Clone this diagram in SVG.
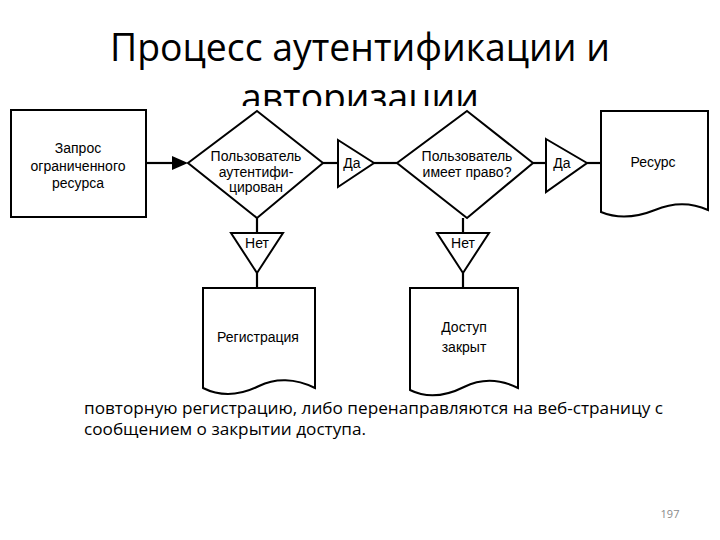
<svg xmlns="http://www.w3.org/2000/svg" width="720" height="540" viewBox="0 0 720 540">
<defs>
<style>
.shape{fill:#fff;stroke:#000;stroke-width:2;stroke-linejoin:miter}
.conn{fill:none;stroke:#000;stroke-width:2.2}
.lbl{font-family:"Liberation Sans",Arial,sans-serif;font-size:14px;fill:#000;text-anchor:middle}
.title{font-family:"Open Sans","Liberation Sans",sans-serif;font-size:38px;fill:#000;text-anchor:middle}
.body{font-family:"Open Sans","Liberation Sans",sans-serif;font-size:16px;fill:#000}
</style>
</defs>
<rect width="720" height="540" fill="#fff"/>
<g id="title">
<text class="title" x="360" y="61" textLength="500" lengthAdjust="spacingAndGlyphs">Процесс аутентификации и</text>
<text class="title" x="360" y="111" textLength="238" lengthAdjust="spacingAndGlyphs">авторизации</text>
</g>
<rect x="0" y="106" width="720" height="286" fill="#fff"/>
<g id="connectors">
<line class="conn" x1="146" y1="163" x2="172" y2="163"/>
<path d="M172,156 L188,163 L172,170 Z" fill="#000"/>
<line class="conn" x1="323" y1="163" x2="338" y2="163"/>
<line class="conn" x1="374" y1="163" x2="397" y2="163"/>
<line class="conn" x1="533" y1="163" x2="546" y2="163"/>
<line class="conn" x1="587" y1="163" x2="601" y2="163"/>
<line class="conn" x1="257" y1="218" x2="257" y2="233"/>
<line class="conn" x1="257" y1="273" x2="257" y2="288"/>
<line class="conn" x1="463" y1="218" x2="463" y2="233"/>
<line class="conn" x1="463" y1="273" x2="463" y2="288"/>
</g>
<g id="request">
<rect class="shape" x="11" y="110" width="135" height="107"/>
<text class="lbl" x="78" y="153">Запрос</text>
<text class="lbl" x="78" y="171">ограниченного</text>
<text class="lbl" x="78" y="188">ресурса</text>
</g>
<g id="auth">
<path class="shape" d="M257,111 L323,163 L257,218 L188,163 Z"/>
<text class="lbl" x="256" y="161">Пользователь</text>
<text class="lbl" x="256" y="176.5">аутентифи-</text>
<text class="lbl" x="256" y="192">цирован</text>
</g>
<g id="yes1">
<path class="shape" d="M338,140 L374,163 L338,187 Z"/>
<text class="lbl" x="352" y="168">Да</text>
</g>
<g id="rights">
<path class="shape" d="M467,111 L533,163 L467,218 L397,163 Z"/>
<text class="lbl" x="467" y="161">Пользователь</text>
<text class="lbl" x="467" y="177">имеет право?</text>
</g>
<g id="yes2">
<path class="shape" d="M546,139 L587,163 L546,192 Z"/>
<text class="lbl" x="562" y="168">Да</text>
</g>
<g id="resource">
<path class="shape" d="M601,111 H708 V210 C690,202 672,203 655,210 C640,216 620,220 601,212 Z"/>
<text class="lbl" x="653" y="167">Ресурс</text>
</g>
<g id="no1">
<path class="shape" d="M231,233 L283,233 L257,273 Z"/>
<text class="lbl" x="257" y="248">Нет</text>
</g>
<g id="no2">
<path class="shape" d="M437,233 L489,233 L463,273 Z"/>
<text class="lbl" x="463" y="248">Нет</text>
</g>
<g id="registration">
<path class="shape" d="M203,288 H315 V388 C295,378 275,378 259,386 C243,394 223,398 203,388 Z"/>
<text class="lbl" x="258" y="342">Регистрация</text>
</g>
<g id="denied">
<path class="shape" d="M410,288 H518 V388 C498,378 480,379 464,387 C448,395 428,399 410,390 Z"/>
<text class="lbl" x="464" y="332">Доступ</text>
<text class="lbl" x="464" y="352">закрыт</text>
</g>
<g id="body">
<text class="body" x="84" y="414" textLength="579" lengthAdjust="spacingAndGlyphs">повторную регистрацию, либо перенаправляются на веб-страницу с</text>
<text class="body" x="84" y="435" textLength="282" lengthAdjust="spacingAndGlyphs">сообщением о закрытии доступа.</text>
</g>
<text x="670" y="518" font-family="'Open Sans','Liberation Sans',sans-serif" font-size="11" fill="#8a8a8a" text-anchor="middle">197</text>
</svg>
